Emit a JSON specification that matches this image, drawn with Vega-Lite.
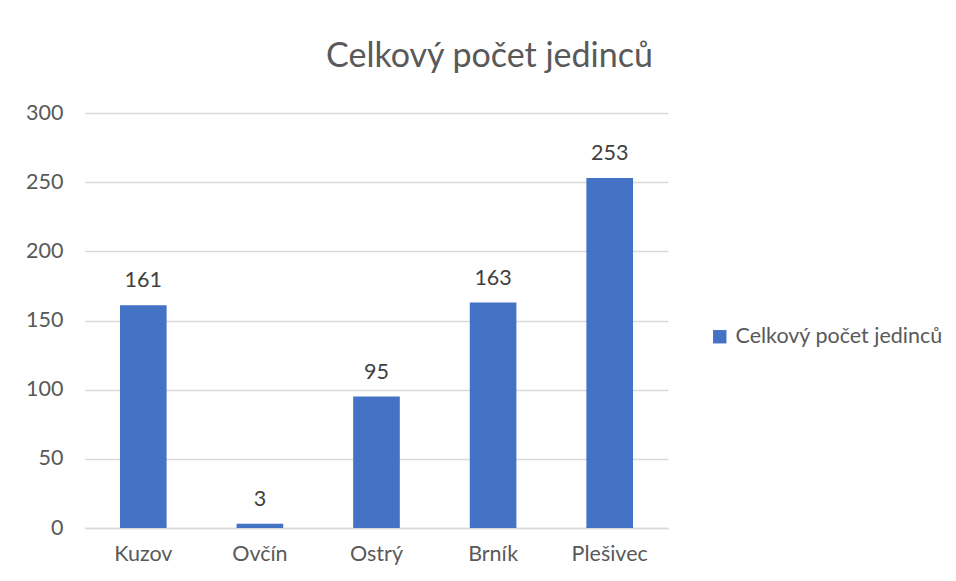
{
  "$schema": "https://vega.github.io/schema/vega-lite/v6.json",
  "autosize": "none",
  "width": 583,
  "height": 415,
  "padding": {"left": 85, "top": 113, "right": 288, "bottom": 53},
  "background": "white",
  "config": {
    "font": "Lato",
    "view": {"stroke": null}
  },
  "title": {
    "text": "Celkový počet jedinců",
    "fontSize": 34,
    "font": "Lato",
    "fontWeight": "normal",
    "color": "#595959",
    "anchor": "middle",
    "dx": 113,
    "offset": 28
  },
  "data": {
    "values": [
      {"lokalita": "Kuzov", "pocet": 161, "serie": "Celkový počet jedinců"},
      {"lokalita": "Ovčín", "pocet": 3, "serie": "Celkový počet jedinců"},
      {"lokalita": "Ostrý", "pocet": 95, "serie": "Celkový počet jedinců"},
      {"lokalita": "Brník", "pocet": 163, "serie": "Celkový počet jedinců"},
      {"lokalita": "Plešivec", "pocet": 253, "serie": "Celkový počet jedinců"}
    ]
  },
  "encoding": {
    "x": {
      "field": "lokalita",
      "type": "nominal",
      "sort": null,
      "title": null,
      "scale": {"paddingInner": 0.6, "paddingOuter": 0.3},
      "axis": {
        "labelAngle": 0,
        "labelFontSize": 21.5,
        "labelColor": "#595959",
        "labelPadding": 15,
        "ticks": false,
        "domain": true,
        "domainColor": "#D9D9D9",
        "domainWidth": 1.5
      }
    },
    "y": {
      "field": "pocet",
      "type": "quantitative",
      "title": null,
      "scale": {"domain": [0, 300]},
      "axis": {
        "values": [0, 50, 100, 150, 200, 250, 300],
        "labelFontSize": 21.5,
        "labelColor": "#595959",
        "labelPadding": 22,
        "ticks": false,
        "domain": false,
        "gridColor": "#D9D9D9",
        "gridWidth": 1.5
      }
    }
  },
  "layer": [
    {
      "mark": {"type": "bar", "color": "#4472C4"},
      "encoding": {
        "color": {
          "field": "serie",
          "type": "nominal",
          "scale": {"range": ["#4472C4"]},
          "legend": {
            "title": null,
            "orient": "none",
            "legendX": 624,
            "legendY": 213,
            "symbolType": "square",
            "symbolSize": 180,
            "symbolStrokeWidth": 0,
            "labelFontSize": 21.5,
            "labelColor": "#595959",
            "labelOffset": 5,
            "labelLimit": 400
          }
        }
      }
    },
    {
      "mark": {"type": "text", "dy": -24, "fontSize": 21.5, "color": "#404040"},
      "encoding": {
        "text": {"field": "pocet", "type": "quantitative"}
      }
    }
  ]
}
